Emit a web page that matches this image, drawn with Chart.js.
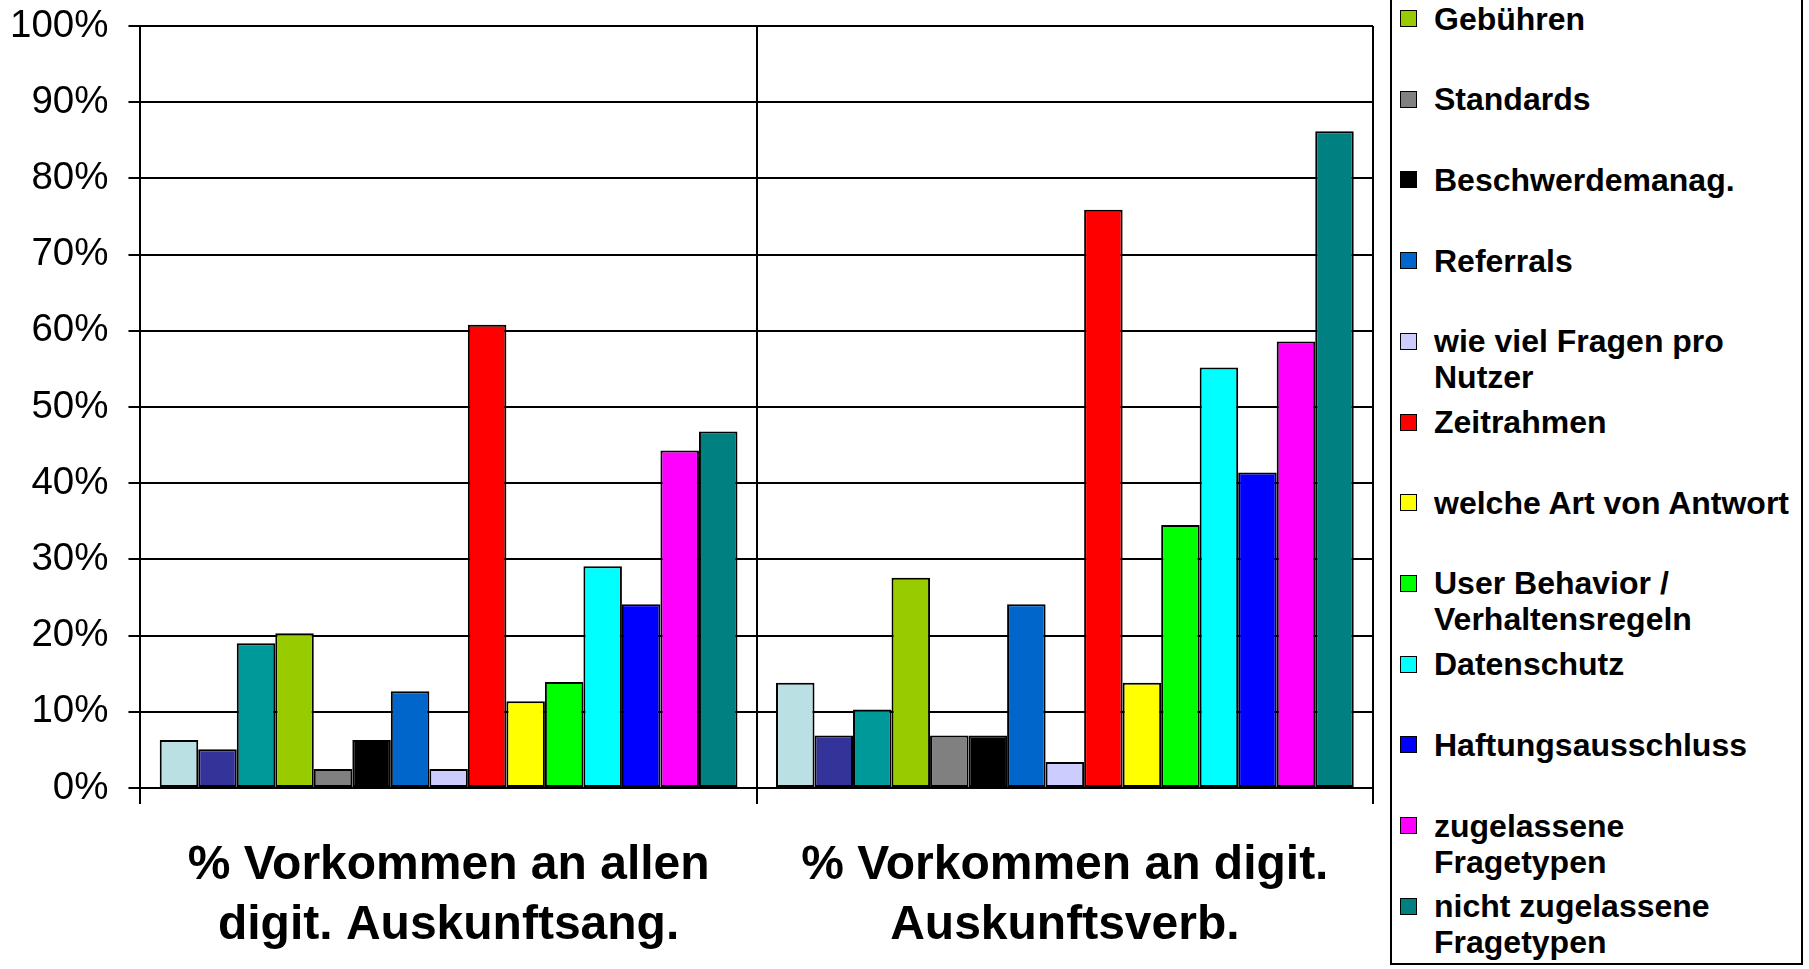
<!DOCTYPE html>
<html>
<head>
<meta charset="utf-8">
<script src="https://cdn.jsdelivr.net/npm/chart.js@4.4.1/dist/chart.umd.min.js"></script>
<style>
  html, body { margin: 0; padding: 0; background: #fff; overflow: hidden; }
  #wrap { position: relative; width: 1809px; height: 969px; }
  #chart { position: absolute; left: 0; top: 0; }
  #legend {
    position: absolute; left: 1390px; top: -30px; width: 413px; height: 995px;
    border: 2px solid #000; box-sizing: border-box; background: #fff;
    font: bold 32px "Liberation Sans", Arial, sans-serif; color: #000;
  }
  .sw { position: absolute; width: 17px; height: 17px; border: 1.5px solid #000; box-sizing: border-box; }
  .lb { position: absolute; width: 362px; line-height: 36px; }
</style>
</head>
<body>
<div id="wrap">
  <canvas id="chart" width="1809" height="969"></canvas>
  <div id="legend"></div>
</div>
<script>
// Two groups of services
const groupLabels = [
  ['% Vorkommen an allen', 'digit. Auskunftsang.'],
  ['% Vorkommen an digit.', 'Auskunftsverb.']
];

// Policy topics (the first three entries have no legend text shown)
const topicNames = [
  '', '', '',
  'Gebühren',
  'Standards',
  'Beschwerdemanag.',
  'Referrals',
  'wie viel Fragen pro Nutzer',
  'Zeitrahmen',
  'welche Art von Antwort',
  'User Behavior / Verhaltensregeln',
  'Datenschutz',
  'Haftungsausschluss',
  'zugelassene Fragetypen',
  'nicht zugelassene Fragetypen'
];

const topicColors = [
  '#BBE0E3', '#333399', '#009999', '#99CC00', '#808080',
  '#000000', '#0066CC', '#CCCCFF', '#FF0000', '#FFFF00',
  '#00FF00', '#00FFFF', '#0000FF', '#FF00FF', '#008080'
];

// Share (%) in all digital reference services
const shareAllServices = [6.3, 5.1, 19.0, 20.3, 2.5, 6.3, 12.7, 2.5, 60.8, 11.4, 13.9, 29.1, 24.1, 44.3, 46.8];
// Share (%) in digital reference networks
const shareNetworks = [13.8, 6.9, 10.3, 27.6, 6.9, 6.9, 24.1, 3.4, 75.9, 13.8, 34.5, 55.2, 41.4, 58.6, 86.2];

const yTicks = [0, 10, 20, 30, 40, 50, 60, 70, 80, 90, 100];

const datasets = topicNames.map((name, i) => ({
  label: name,
  data: [shareAllServices[i], shareNetworks[i]],
  backgroundColor: topicColors[i],
  borderColor: '#000',
  borderWidth: 2,
  borderSkipped: false,
  barPercentage: 1,
  categoryPercentage: 15 / 16
}));

const chart = new Chart(document.getElementById('chart'), {
  type: 'bar',
  data: { labels: groupLabels, datasets },
  options: {
    responsive: false,
    animation: false,
    devicePixelRatio: 1,
    layout: { padding: { left: -10, right: 436, top: 26, bottom: -19 } },
    plugins: { legend: { display: false }, tooltip: { enabled: false } },
    scales: {
      x: {
        offset: true,
        grid: { color: '#000', lineWidth: 2, offset: true, tickLength: 16, drawTicks: true },
        border: { display: true, color: '#000', width: 2 },
        ticks: {
          color: '#000',
          maxRotation: 0,
          padding: 32,
          font: { family: '"Liberation Sans", Arial, sans-serif', size: 48, weight: 'bold', lineHeight: 1.25 }
        }
      },
      y: {
        min: 0, max: 100,
        afterBuildTicks: axis => { axis.ticks = yTicks.map(v => ({ value: v })); },
        grid: { color: '#000', lineWidth: 2, tickLength: 12, drawTicks: true },
        border: { display: true, color: '#000', width: 2 },
        ticks: {
          color: '#000',
          padding: 20,
          callback: v => v + '%',
          font: { family: '"Liberation Sans", Arial, sans-serif', size: 38.5, weight: 'normal', lineHeight: 0.3 }
        }
      }
    }
  }
});

// Legend box on the right, built from the chart's datasets
const legend = document.getElementById('legend');
const boxTop = -30 + 2;
let slot = 0;
chart.data.datasets.forEach(ds => {
  if (!ds.label) return;
  const center = 18.5 + slot * 80.7;
  const sw = document.createElement('div');
  sw.className = 'sw';
  sw.style.left = (1400 - 1392) + 'px';
  sw.style.top = (center - 8.5 - boxTop) + 'px';
  sw.style.background = ds.backgroundColor;
  legend.appendChild(sw);
  const lb = document.createElement('div');
  lb.className = 'lb';
  lb.style.left = (1434 - 1392) + 'px';
  lb.style.top = (center - 18 - boxTop) + 'px';
  lb.textContent = ds.label;
  legend.appendChild(lb);
  slot++;
});
</script>
</body>
</html>
